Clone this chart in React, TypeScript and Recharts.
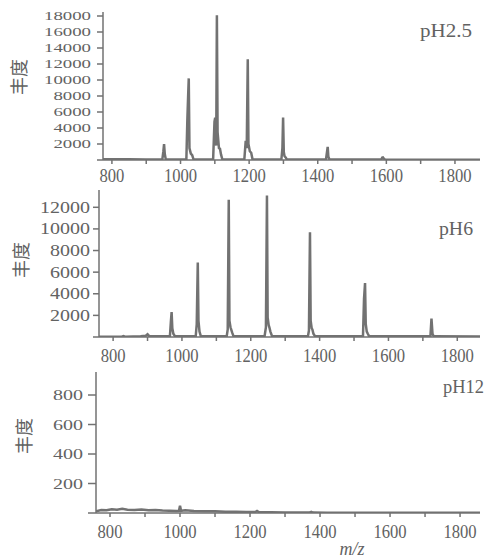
import { LineChart, Line, XAxis, YAxis } from 'recharts';

// m/z positions and abundances
const mzPH25 = [774, 850, 900, 947, 950, 952, 954, 957, 1017, 1020, 1022, 1024, 1026, 1030, 1034, 1038, 1095, 1099, 1101, 1104, 1106, 1108, 1112, 1115, 1118, 1122, 1186, 1190, 1193, 1196, 1198, 1202, 1206, 1210, 1294, 1297, 1299, 1301, 1303, 1307, 1310, 1424, 1427, 1429, 1431, 1434, 1585, 1588, 1590, 1593, 1596, 1700, 1873];
const abPH25 = [80, 100, 60, 60, 1100, 2000, 800, 60, 60, 5200, 7800, 10200, 1500, 800, 600, 60, 60, 4800, 5300, 1800, 18100, 3500, 1500, 1400, 700, 60, 60, 2400, 1500, 12600, 2000, 1100, 900, 60, 60, 1500, 5300, 1000, 500, 300, 60, 60, 1000, 1650, 400, 60, 60, 300, 320, 150, 60, 40, 40];

const mzPH6 = [759, 800, 825, 830, 835, 880, 895, 900, 905, 950, 965, 968, 970, 972, 975, 980, 1040, 1043, 1046, 1048, 1051, 1055, 1130, 1133, 1136, 1138, 1141, 1143, 1146, 1150, 1240, 1244, 1247, 1249, 1252, 1254, 1257, 1262, 1366, 1369, 1372, 1374, 1377, 1379, 1382, 1387, 1526, 1529, 1532, 1534, 1537, 1540, 1544, 1722, 1725, 1728, 1731, 1735, 1866];
const abPH6 = [20, 30, 30, 80, 30, 60, 120, 250, 80, 60, 60, 1500, 2300, 800, 300, 60, 60, 1200, 6900, 1500, 500, 60, 60, 700, 12700, 1500, 900, 700, 400, 60, 60, 900, 13100, 1800, 1100, 900, 500, 60, 60, 600, 9700, 1500, 800, 700, 300, 60, 60, 3500, 5000, 1200, 500, 300, 60, 60, 1700, 300, 100, 60, 40];

const mzPH12 = [760, 775, 790, 805, 820, 835, 850, 870, 890, 910, 930, 950, 970, 990, 997, 1000, 1003, 1015, 1040, 1070, 1100, 1130, 1160, 1190, 1215, 1220, 1225, 1260, 1300, 1340, 1370, 1375, 1380, 1420, 1480, 1550, 1650, 1750, 1857];
const abPH12 = [12, 20, 18, 25, 22, 28, 22, 20, 24, 18, 20, 17, 16, 14, 15, 50, 15, 18, 14, 12, 12, 9, 8, 7, 6, 14, 6, 5, 4, 4, 3, 8, 3, 2, 2, 2, 1, 1, 1];

const xTicks = [800, 900, 1000, 1100, 1200, 1300, 1400, 1500, 1600, 1700, 1800];
const yTicksPH25 = [0, 2000, 4000, 6000, 8000, 10000, 12000, 14000, 16000, 18000];
const yTicksPH6 = [0, 2000, 4000, 6000, 8000, 10000, 12000];
const yTicksPH12 = [0, 200, 400, 600, 800];

const INK = '#727272';
const TEXT = '#626262';
const SERIF = '"Liberation Serif", "Times New Roman", serif';

const toRows = (mz: number[], ab: number[]) => mz.map((m, i) => ({ mz: m, ab: ab[i] }));

const YTick = (props: any) => {
  const { x, y, payload, fs, cw } = props;
  if (payload.value === 0) return <g />;
  const s = String(payload.value);
  return (
    <text x={x} y={y} dy={fs * 0.33} textAnchor="end" fontSize={fs} fontFamily={SERIF} fill={TEXT}
      textLength={s.length * cw} lengthAdjust="spacingAndGlyphs">
      {s}
    </text>
  );
};

const XTick = (props: any) => {
  const { x, y, payload, base } = props;
  if (payload.value % 200 !== 0) return <g />;
  const s = String(payload.value);
  return (
    <text x={x} y={y + base} textAnchor="middle" fontSize={19} fontFamily={SERIF} fill={TEXT}
      textLength={s.length * 8.3} lengthAdjust="spacingAndGlyphs">
      {s}
    </text>
  );
};

interface PanelProps {
  top: number;
  height: number;
  marginTop: number;
  axisX: number;
  xDomain: [number, number];
  yMax: number;
  yTicks: number[];
  rows: { mz: number; ab: number }[];
  yFont: number;
  yCharW: number;
  yTickSize: number;
  yTickMargin: number;
  xBase: number;
}

const Panel = (p: PanelProps) => (
  <div style={{ position: 'absolute', left: 0, top: p.top }}>
    <LineChart width={487} height={p.height} data={p.rows}
      margin={{ top: p.marginTop, right: 7, left: 0, bottom: 0 }}>
      <XAxis dataKey="mz" type="number" domain={p.xDomain} ticks={xTicks} allowDataOverflow interval={0}
        height={32} stroke={INK} strokeWidth={1.5} tickSize={4} tickMargin={0}
        tick={(t: any) => <XTick {...t} base={p.xBase} />} />
      <YAxis type="number" domain={[0, p.yMax]} ticks={p.yTicks} allowDataOverflow interval={0}
        width={p.axisX} stroke={INK} strokeWidth={1.5} tickSize={p.yTickSize} tickMargin={p.yTickMargin}
        tick={(t: any) => <YTick {...t} fs={p.yFont} cw={p.yCharW} />} />
      <Line dataKey="ab" type="linear" stroke={INK} strokeWidth={2.5} dot={false}
        isAnimationActive={false} />
    </LineChart>
  </div>
);

const App = () => (
  <div style={{ position: 'absolute', left: 0, top: 0, width: 487, height: 559, background: '#fff' }}>
    <Panel top={0} height={192} marginTop={12} axisX={103} xDomain={[774, 1873]} yMax={18500}
      yTicks={yTicksPH25} rows={toRows(mzPH25, abPH25)} yFont={13} yCharW={9.4}
      yTickSize={6} yTickMargin={6} xBase={18} />
    <Panel top={175} height={194} marginTop={15} axisX={99} xDomain={[759, 1866]} yMax={13600}
      yTicks={yTicksPH6} rows={toRows(mzPH6, abPH6)} yFont={16.5} yCharW={10}
      yTickSize={6} yTickMargin={3} xBase={21} />
    <Panel top={355} height={190} marginTop={17} axisX={96} xDomain={[760, 1857]} yMax={956}
      yTicks={yTicksPH12} rows={toRows(mzPH12, abPH12)} yFont={15.5} yCharW={10}
      yTickSize={8} yTickMargin={5} xBase={21} />
    <svg width={487} height={559} style={{ position: 'absolute', left: 0, top: 0, pointerEvents: 'none' }}>
      <g fontFamily={SERIF} fill={TEXT} fontSize={18}>
        <text x={420} y={37} textLength={52} lengthAdjust="spacingAndGlyphs">pH2.5</text>
        <text x={439} y={235} textLength={34} lengthAdjust="spacingAndGlyphs">pH6</text>
        <text x={443} y={393} textLength={41} lengthAdjust="spacingAndGlyphs">pH12</text>
        <text x={352} y={555} textAnchor="middle" fontStyle="italic">m/z</text>
      </g>
      <g fontFamily='"Noto Sans CJK SC", sans-serif' fill={TEXT} fontSize={18}>
        <text transform="translate(18,77) rotate(-90)" textAnchor="middle" dominantBaseline="central">丰度</text>
        <text transform="translate(20,260) rotate(-90)" textAnchor="middle" dominantBaseline="central">丰度</text>
        <text transform="translate(23,436) rotate(-90)" textAnchor="middle" dominantBaseline="central">丰度</text>
      </g>
    </svg>
  </div>
);

export default App;
